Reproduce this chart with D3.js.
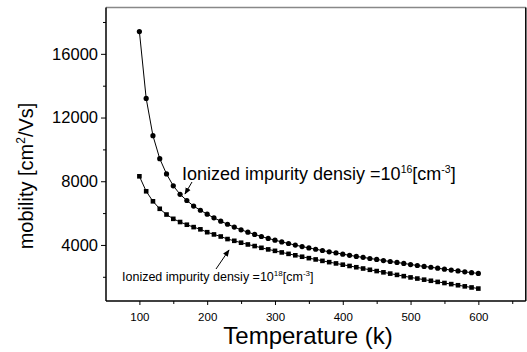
<!DOCTYPE html>
<html>
<head>
<meta charset="utf-8">
<script src="https://cdn.jsdelivr.net/npm/d3@7"></script>
<style>
  body { margin: 0; background: #fff; }
  svg { display: block; font-family: "Liberation Sans", Arial, sans-serif; }
</style>
</head>
<body>
<div id="chart"></div>
<script>
var svgWidth = 527;
var svgHeight = 352;

// temperatures (K)
var temps = d3.range(100, 601, 10);

// mobility for ionized impurity density 1e16 cm^-3 (circles)
var mobility16 = [17400, 13200, 10860, 9420, 8460, 7710, 7180, 6790, 6440, 6180,
  5930, 5700, 5490, 5300, 5120, 4950, 4800, 4660, 4530, 4410,
  4300, 4190, 4090, 3990, 3900, 3810, 3730, 3650, 3570, 3500,
  3420, 3350, 3280, 3220, 3150, 3090, 3020, 2960, 2900, 2840,
  2770, 2710, 2650, 2600, 2540, 2480, 2420, 2370, 2310, 2260, 2210];

// mobility for ionized impurity density 1e18 cm^-3 (squares)
var mobility18 = [8310, 7370, 6740, 6270, 5910, 5640, 5440, 5270, 5120, 4980,
  4800, 4660, 4530, 4370, 4260, 4140, 4030, 3930, 3820, 3720,
  3630, 3530, 3440, 3350, 3260, 3170, 3090, 3000, 2920, 2840,
  2760, 2680, 2600, 2520, 2440, 2360, 2280, 2200, 2120, 2040,
  1960, 1890, 1820, 1750, 1680, 1610, 1540, 1470, 1400, 1330, 1260];

var xMajor = [100, 200, 300, 400, 500, 600];
var xMinor = [150, 250, 350, 450, 550, 650];
var yMajor = [4000, 8000, 12000, 16000];
var yMinor = [2000, 6000, 10000, 14000, 18000];

var plot = { left: 106, right: 525.8, top: 7.5, bottom: 301 };

var svg = d3.select("#chart")
  .append("svg")
  .attr("width", svgWidth)
  .attr("height", svgHeight);

var xScale = d3.scaleLinear()
  .domain([50, 670])
  .range([105.5, 525.8]);

var yScale = d3.scaleLinear()
  .domain([480, 18910])
  .range([plot.bottom, plot.top]);

// frame: top gray, right black
svg.append("line")
  .attr("x1", plot.left).attr("x2", plot.right)
  .attr("y1", plot.top).attr("y2", plot.top)
  .attr("stroke", "#888").attr("stroke-width", 1.5);
svg.append("line")
  .attr("x1", plot.right).attr("x2", plot.right)
  .attr("y1", plot.top).attr("y2", plot.bottom)
  .attr("stroke", "#000").attr("stroke-width", 1.5);

// axes
var bottomAxis = d3.axisBottom(xScale).tickValues(xMajor).tickSize(4).tickPadding(8);
var bottomMinor = d3.axisBottom(xScale).tickValues(xMinor).tickSize(3).tickFormat("");
var leftAxis = d3.axisLeft(yScale).tickValues(yMajor).tickSize(5).tickPadding(3).tickFormat(d3.format("d"));
var leftMinor = d3.axisLeft(yScale).tickValues(yMinor).tickSize(3).tickFormat("");

var xAxisG = svg.append("g")
  .attr("transform", `translate(0, ${plot.bottom})`)
  .call(bottomAxis);
svg.append("g")
  .attr("transform", `translate(0, ${plot.bottom})`)
  .call(bottomMinor);
var yAxisG = svg.append("g")
  .attr("transform", `translate(${plot.left}, 0)`)
  .call(leftAxis);
svg.append("g")
  .attr("transform", `translate(${plot.left}, 0)`)
  .call(leftMinor);

svg.selectAll(".domain").remove();
svg.selectAll(".tick line").attr("stroke", "#000").attr("stroke-width", 1);
xAxisG.selectAll("text").attr("font-size", "11.5px").attr("fill", "#000")
  .attr("font-family", "Liberation Sans, Arial, sans-serif");
yAxisG.selectAll("text").attr("font-size", "16.5px").attr("fill", "#000")
  .attr("font-family", "Liberation Sans, Arial, sans-serif");

// left and bottom axis lines
svg.append("line")
  .attr("x1", plot.left).attr("x2", plot.left)
  .attr("y1", plot.top).attr("y2", plot.bottom)
  .attr("stroke", "#000").attr("stroke-width", 1.5);
svg.append("line")
  .attr("x1", plot.left).attr("x2", plot.right)
  .attr("y1", plot.bottom).attr("y2", plot.bottom)
  .attr("stroke", "#000").attr("stroke-width", 1.5);

// series
var data16 = temps.map((t, i) => ({ t: t, v: mobility16[i] }));
var data18 = temps.map((t, i) => ({ t: t, v: mobility18[i] }));

var line = d3.line()
  .x(d => xScale(d.t))
  .y(d => yScale(d.v));

svg.append("path").datum(data16)
  .attr("d", line).attr("fill", "none").attr("stroke", "#000").attr("stroke-width", 1);
svg.append("path").datum(data18)
  .attr("d", line).attr("fill", "none").attr("stroke", "#000").attr("stroke-width", 1);

svg.selectAll(".dot16")
  .data(data16)
  .enter()
  .append("circle")
  .attr("cx", d => xScale(d.t))
  .attr("cy", d => yScale(d.v))
  .attr("r", 2.6)
  .attr("fill", "#000");

svg.selectAll(".sq18")
  .data(data18)
  .enter()
  .append("rect")
  .attr("x", d => xScale(d.t) - 2.3)
  .attr("y", d => yScale(d.v) - 2.3)
  .attr("width", 4.6)
  .attr("height", 4.6)
  .attr("fill", "#000");

// annotations
svg.append("defs").append("marker")
  .attr("id", "arrow")
  .attr("viewBox", "0 0 10 10")
  .attr("refX", 9).attr("refY", 5)
  .attr("markerWidth", 7).attr("markerHeight", 7)
  .attr("orient", "auto")
  .append("path")
  .attr("d", "M0,1 L10,5 L0,9 Z")
  .attr("fill", "#000");

var label16 = svg.append("text")
  .attr("x", 182).attr("y", 180)
  .attr("font-size", "18px").attr("fill", "#000");
label16.append("tspan").text("Ionized impurity densiy =10");
label16.append("tspan").attr("font-size", "10.5px").attr("dy", -7).text("16");
label16.append("tspan").attr("dy", 7).text("[cm");
label16.append("tspan").attr("font-size", "10.5px").attr("dy", -7).text("-3");
label16.append("tspan").attr("dy", 7).text("]");

svg.append("line")
  .attr("x1", 192).attr("y1", 182)
  .attr("x2", 185).attr("y2", 194)
  .attr("stroke", "#000").attr("stroke-width", 1)
  .attr("marker-end", "url(#arrow)");

var label18 = svg.append("text")
  .attr("x", 122).attr("y", 281)
  .attr("font-size", "12.5px").attr("fill", "#000");
label18.append("tspan").text("Ionized impurity densiy =10");
label18.append("tspan").attr("font-size", "8px").attr("dy", -5).text("18");
label18.append("tspan").attr("dy", 5).text("[cm");
label18.append("tspan").attr("font-size", "8px").attr("dy", -5).text("-3");
label18.append("tspan").attr("dy", 5).text("]");

svg.append("line")
  .attr("x1", 216).attr("y1", 269)
  .attr("x2", 229).attr("y2", 250)
  .attr("stroke", "#000").attr("stroke-width", 1)
  .attr("marker-end", "url(#arrow)");

// axis titles
var yTitle = svg.append("text")
  .attr("transform", "translate(33, 176) rotate(-90)")
  .attr("text-anchor", "middle")
  .attr("font-size", "20px").attr("fill", "#000");
yTitle.append("tspan").text("mobility [cm");
yTitle.append("tspan").attr("font-size", "12px").attr("dy", -8).text("2");
yTitle.append("tspan").attr("dy", 8).text("/Vs]");

svg.append("text")
  .attr("x", 308).attr("y", 344)
  .attr("text-anchor", "middle")
  .attr("font-size", "24px").attr("fill", "#000")
  .text("Temperature (k)");
</script>
</body>
</html>
